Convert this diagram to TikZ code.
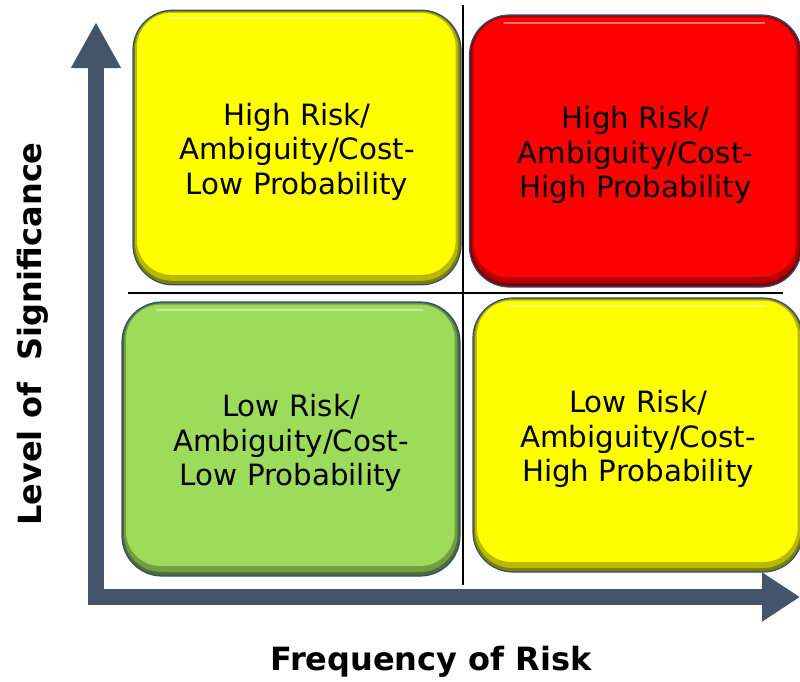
\documentclass[tikz,border=0pt]{standalone}
\usepackage{fontspec}
\setmainfont{DejaVu Sans}
\usetikzlibrary{arrows.meta}

\definecolor{axisblue}{HTML}{44546A}
\definecolor{rimblue}{HTML}{2F4F80}
\definecolor{quadyellow}{HTML}{FFFF00}
\definecolor{quadred}{HTML}{FF0000}
\definecolor{quadgreen}{HTML}{9DDB5A}

% taller first line, pushes the three lines down a little
\newcommand\quadstrut{\rule{0pt}{23pt}}

\tikzset{
  quad/.style={draw=rimblue, line width=0.9pt, rounded corners=30pt, fill=#1!50!black,
    align=center, font=\fontsize{22}{26}\selectfont,
    path picture={
      \fill[#1!72!black, rounded corners=28pt]
        ([xshift=1.5pt,yshift=3pt]path picture bounding box.south west) rectangle
        ([xshift=-2pt,yshift=-1pt]path picture bounding box.north east);
      \fill[#1, rounded corners=26pt]
        ([xshift=3pt,yshift=7.5pt]path picture bounding box.south west) rectangle
        ([xshift=-4pt,yshift=-2pt]path picture bounding box.north east);
      \draw[white, opacity=.45, line width=1.5pt, line cap=round]
        ([xshift=26pt,yshift=-6pt]path picture bounding box.north west) --
        ([xshift=-28pt,yshift=-6pt]path picture bounding box.north east);
    }},
  divider/.style={line width=1.5pt},
  axis/.style={axisblue, line width=12pt,
    {Triangle[length=34.5pt,width=35pt]}-{Triangle[length=28.5pt,width=35pt]}},
  axislabel/.style={font=\bfseries\fontsize{24}{28}\selectfont}
}

\begin{document}
\begin{tikzpicture}[x=0.75pt,y=0.75pt,yscale=-1,xscale=1]
        \useasboundingbox (0,0) rectangle (800,682);

        % quadrant dividers
        \coordinate (vtop) at (463,5);
        \coordinate (vbot) at (463,585);
        \coordinate (hleft) at (128,293);
        \coordinate (hright) at (783,293);
        \draw [divider] (vtop) -- (vbot);
        \draw [divider] (hleft) -- (hright);

        % axes
        \coordinate (ytip) at (96,22);
        \coordinate (corner) at (96,597);
        \coordinate (xtip) at (800,597);
        \draw [axis] (ytip) -- (corner) -- (xtip);

        %Rounded Rect top left
        \node (hiLow) [quad=quadyellow, minimum width=246pt, minimum height=206pt] at (297,147.5)
          {\quadstrut High Risk/\\Ambiguity/Cost-\\Low Probability};
        %Rounded Rect top right
        \node (hiHigh) [quad=quadred, minimum width=249pt, minimum height=204pt] at (635.5,151)
          {\quadstrut High Risk/\\Ambiguity/Cost-\\High Probability};
        %Rounded Rect bottom left
        \node (loLow) [quad=quadgreen, minimum width=253.5pt, minimum height=205.5pt] at (291,439)
          {\quadstrut Low Risk/\\Ambiguity/Cost-\\Low Probability};
        %Rounded Rect bottom right
        \node (loHigh) [quad=quadyellow, minimum width=247.5pt, minimum height=205.5pt] at (638,435)
          {\quadstrut Low Risk/\\Ambiguity/Cost-\\High Probability};

        % Text Node
        \node (sig) [axislabel, rotate=90] at (33,334) {Level of\ \ Significance};
        % Text Node
        \node (freq) [axislabel] at (431,662) {Frequency of Risk};
    \end{tikzpicture}
\end{document}
